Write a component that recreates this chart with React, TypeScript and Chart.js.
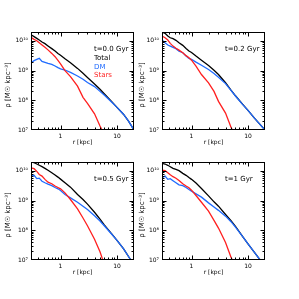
import React, { useEffect, useRef } from "react";
import { Chart, registerables } from "chart.js";
Chart.register(...registerables);

// radii [kpc]
const radius = [0.3, 0.34, 0.38, 0.42, 0.47, 0.53, 0.6, 0.7, 0.8, 0.9, 1.0, 1.2, 1.5, 2.0, 2.5, 3.0, 4.0, 5.0, 6.0, 8.0, 10, 13, 16, 20];

// t = 0.0 Gyr
const total_t00 = [1.6e10, 1.4e10, 1.22e10, 1.07e10, 9.2e9, 8.1e9, 6.8e9, 5.5e9, 4.6e9, 3.8e9, 3.3e9, 2.5e9, 1.85e9, 1.19e9, 8.1e8, 5.9e8, 3.55e8, 2.35e8, 1.63e8, 9.2e7, 5.8e7, 3.4e7, 2.0e7, 1.0e7];
const dm_t00 = [1.85e9, 2.17e9, 2.4e9, 2.6e9, 2.05e9, 1.9e9, 1.76e9, 1.62e9, 1.43e9, 1.26e9, 1.14e9, 1.05e9, 8.7e8, 6.6e8, 5.1e8, 4.0e8, 2.9e8, 2.0e8, 1.47e8, 8.8e7, 5.8e7, 3.4e7, 2.0e7, 1.0e7];
const stars_t00 = [1.32e10, 1.13e10, 1.02e10, 8.7e9, 7.3e9, 6.1e9, 5.0e9, 3.8e9, 2.95e9, 2.2e9, 1.7e9, 1.0e9, 6.3e8, 3.0e8, 1.26e8, 7.9e7, 3.5e7, 1.36e7, 6.8e6, null, null, null, null, null];

// t = 0.2 Gyr
const total_t02 = [2.0e10, 1.8e10, 1.46e10, 1.28e10, 1.19e10, 1.05e10, 8.7e9, 7.1e9, 5.6e9, 4.6e9, 4.1e9, 3.1e9, 2.25e9, 1.49e9, 1.03e9, 7.4e8, 3.9e8, 2.2e8, 1.42e8, 7.4e7, 4.6e7, 2.5e7, 1.6e7, 1.0e7];
const dm_t02 = [1.07e10, 8.7e9, 7.3e9, 6.7e9, 6.1e9, 5.5e9, 4.5e9, 4.0e9, 3.1e9, 2.57e9, 2.4e9, 1.93e9, 1.52e9, 1.09e9, 8.0e8, 6.0e8, 3.65e8, 2.17e8, 1.4e8, 7.3e7, 4.6e7, 2.5e7, 1.6e7, 1.0e7];
const stars_t02 = [1.46e10, 1.28e10, 1.07e10, 8.3e9, 6.7e9, 5.7e9, 4.9e9, 4.0e9, 3.2e9, 2.7e9, 2.25e9, 1.41e9, 7.4e8, 3.85e8, 2.0e8, 9.2e7, 3.7e7, 1.24e7, 6.0e6, null, null, null, null, null];

// t = 0.5 Gyr
const total_t05 = [2.0e10, 1.9e10, 1.71e10, 1.55e10, 1.39e10, 1.22e10, 1.05e10, 8.7e9, 7.3e9, 6.2e9, 5.3e9, 4.0e9, 2.85e9, 1.61e9, 1.09e9, 7.6e8, 4.05e8, 2.4e8, 1.5e8, 7.7e7, 4.6e7, 2.4e7, 1.31e7, 6.8e6];
const dm_t05 = [6.7e9, 7.1e9, 5.5e9, 5.7e9, 4.5e9, 4.0e9, 3.6e9, 3.2e9, 2.77e9, 2.5e9, 2.2e9, 1.61e9, 1.24e9, 8.8e8, 6.5e8, 5.0e8, 3.1e8, 2.06e8, 1.4e8, 7.5e7, 4.6e7, 2.4e7, 1.31e7, 6.8e6];
const stars_t05 = [1.28e10, 1.19e10, 9.7e9, 7.6e9, 6.7e9, 5.2e9, 4.2e9, 3.7e9, 3.1e9, 2.77e9, 2.5e9, 1.83e9, 1.09e9, 5.3e8, 2.6e8, 1.43e8, 5.0e7, 1.9e7, 6.8e6, null, null, null, null, null];

// t = 1 Gyr
const total_t1 = [1.8e10, 1.71e10, 1.55e10, 1.39e10, 1.22e10, 1.13e10, 1.02e10, 8.3e9, 7.1e9, 6.0e9, 5.2e9, 3.9e9, 2.57e9, 1.45e9, 9.1e8, 6.5e8, 3.4e8, 2.1e8, 1.36e8, 6.2e7, 3.5e7, 1.8e7, 1.07e7, 5.3e6];
const dm_t1 = [5.9e9, 6.7e9, 5.2e9, 5.5e9, 4.7e9, 4.0e9, 3.4e9, 3.2e9, 2.77e9, 2.37e9, 2.08e9, 1.69e9, 1.31e9, 8.4e8, 6.1e8, 4.7e8, 3.0e8, 1.95e8, 1.29e8, 6.2e7, 3.5e7, 1.8e7, 1.07e7, 5.3e6];
const stars_t1 = [1.07e10, 1.02e10, 8.7e9, 7.4e9, 6.4e9, 5.7e9, 4.8e9, 3.7e9, 3.1e9, 2.7e9, 2.25e9, 1.49e9, 8.8e8, 4.4e8, 2.17e8, 1.19e8, 3.9e7, 1.24e7, 6.0e6, null, null, null, null, null];

const panelLabels = ["t=0.0 Gyr", "t=0.2 Gyr", "t=0.5 Gyr", "t=1 Gyr"];
const seriesNames = ["Total", "DM", "Stars"];
const seriesColors = ["#000000", "#1f6bff", "#ff1f1f"];
const xTickValues = [1, 10];
const yTickValues = [1e7, 1e8, 1e9, 1e10];
const xRange = [0.3, 20];
const yRange = [1e7, 2e10];
const xTitle = "r [kpc]";
const yTitle = "ρ [M☉ kpc⁻³]";

const SUP: Record<string, string> = { "0": "⁰", "1": "¹", "2": "²", "3": "³", "4": "⁴", "5": "⁵", "6": "⁶", "7": "⁷", "8": "⁸", "9": "⁹", "-": "⁻" };
const sup = (s: string) => s.split("").map((c) => SUP[c] || c).join("");

const panels = [
  { label: panelLabels[0], series: [total_t00, dm_t00, stars_t00], x: 0, y: 0, legend: true, titleOff: 23 },
  { label: panelLabels[1], series: [total_t02, dm_t02, stars_t02], x: 131, y: 0, legend: false, titleOff: 20 },
  { label: panelLabels[2], series: [total_t05, dm_t05, stars_t05], x: 0, y: 130, legend: false, titleOff: 23 },
  { label: panelLabels[3], series: [total_t1, dm_t1, stars_t1], x: 131, y: 130, legend: false, titleOff: 20 },
];

const FONT = "'DejaVu Sans', sans-serif";

function makeFramePlugin(p: any) {
  return {
    id: "frame",
    afterDraw(chart: any) {
      const { ctx, chartArea: a, scales } = chart;
      const xs = scales.x, ys = scales.y;
      ctx.save();
      ctx.strokeStyle = "#000";
      ctx.lineWidth = 1;
      const L = Math.round(a.left) + 0.5, R = Math.round(a.right) - 0.5;
      const T = Math.round(a.top) + 0.5, B = Math.round(a.bottom) - 0.5;
      ctx.strokeRect(L, T, R - L, B - T);
      ctx.beginPath();
      for (const d of [0.1, 1, 10]) {
        for (let m = 1; m <= 9; m++) {
          const v = m * d;
          if (v <= xRange[0] || v >= xRange[1]) continue;
          const px = Math.round(xs.getPixelForValue(v)) + 0.5;
          const len = m === 1 ? 4 : 2;
          ctx.moveTo(px, B); ctx.lineTo(px, B - len);
          ctx.moveTo(px, T); ctx.lineTo(px, T + len);
        }
      }
      for (const d of [1e7, 1e8, 1e9, 1e10]) {
        for (let m = 1; m <= 9; m++) {
          const v = m * d;
          if (v <= yRange[0] || v >= yRange[1]) continue;
          const py = Math.round(ys.getPixelForValue(v)) + 0.5;
          const len = m === 1 ? 4 : 2;
          ctx.moveTo(L, py); ctx.lineTo(L + len, py);
          ctx.moveTo(R, py); ctx.lineTo(R - len, py);
        }
      }
      ctx.stroke();

      // axis titles
      ctx.fillStyle = "#000";
      ctx.font = `6px ${FONT}`;
      ctx.textAlign = "center";
      ctx.textBaseline = "middle";
      ctx.fillText(xTitle, (a.left + a.right) / 2, a.bottom + 12.5);
      ctx.save();
      ctx.font = `7px ${FONT}`;
      ctx.translate(a.left - p.titleOff, (a.top + a.bottom) / 2 + 4);
      ctx.rotate(-Math.PI / 2);
      ctx.fillText(yTitle, 0, 0);
      ctx.restore();

      // panel label & legend
      ctx.font = `7px ${FONT}`;
      ctx.textAlign = "left";
      ctx.fillText(p.label, a.left + 63, a.top + 17);
      if (p.legend) {
        seriesNames.forEach((n, i) => {
          ctx.fillStyle = seriesColors[i];
          ctx.fillText(n, a.left + 63, a.top + 26 + i * 8.7);
        });
      }
      ctx.restore();
    },
  };
}

function Panel({ p }: { p: any }) {
  const ref = useRef<HTMLCanvasElement>(null);
  useEffect(() => {
    if (!ref.current) return;
    const datasets = p.series.map((vals: (number | null)[], i: number) => ({
      label: seriesNames[i],
      data: radius.map((r, j) => ({ x: r, y: vals[j] })).filter((d) => d.y !== null),
      borderColor: seriesColors[i],
      borderWidth: 1.3,
      pointRadius: 0,
      tension: 0,
      fill: false,
      order: 2 - i,
    }));
    const chart = new Chart(ref.current, {
      type: "line",
      data: { datasets },
      options: {
        animation: false,
        responsive: false,
        devicePixelRatio: 1,
        layout: { padding: { top: 32, right: 16, left: 0, bottom: 0 } },
        plugins: { legend: { display: false }, tooltip: { enabled: false } },
        scales: {
          x: {
            type: "logarithmic",
            min: xRange[0],
            max: xRange[1],
            grid: { display: false, drawTicks: false },
            border: { display: false },
            afterBuildTicks: (s: any) => { s.ticks = xTickValues.map((v) => ({ value: v })); },
            afterFit: (s: any) => { s.height = 20; },
            ticks: {
              autoSkip: false,
              maxRotation: 0,
              padding: 3,
              color: "#000",
              font: { size: 6, family: FONT },
              callback: (v: any) => String(v),
            },
          },
          y: {
            type: "logarithmic",
            min: yRange[0],
            max: yRange[1],
            grid: { display: false, drawTicks: false },
            border: { display: false },
            afterBuildTicks: (s: any) => { s.ticks = yTickValues.map((v) => ({ value: v })); },
            afterFit: (s: any) => { s.width = 31; },
            ticks: {
              autoSkip: false,
              padding: 3,
              color: "#000",
              font: { size: 6, family: FONT },
              callback: (v: any) => "10" + sup(String(Math.round(Math.log10(Number(v))))),
            },
          },
        },
      },
      plugins: [makeFramePlugin(p)],
    });
    return () => chart.destroy();
  }, [p]);
  return (
    <canvas
      ref={ref}
      width={150}
      height={150}
      style={{ position: "absolute", left: p.x, top: p.y, width: 150, height: 150 }}
    />
  );
}

export default function App() {
  return (
    <div style={{ position: "fixed", left: 0, top: 0, width: 299, height: 299, background: "#fff", overflow: "hidden" }}>
      <div style={{ position: "absolute", left: 0, top: 0, width: 299, height: 299 }}>
        {panels.map((p, i) => (
          <Panel key={i} p={p} />
        ))}
      </div>
    </div>
  );
}
